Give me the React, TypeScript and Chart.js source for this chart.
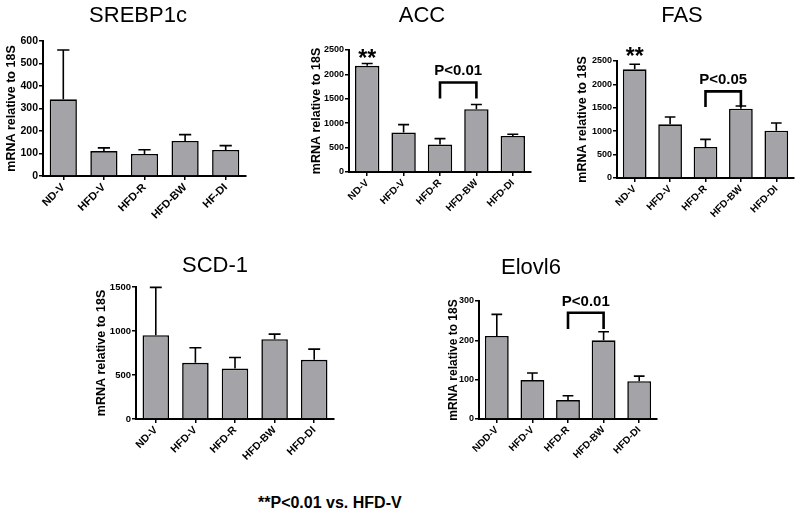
import React, { useEffect, useRef } from "react";
import { Chart, registerables } from "chart.js";

Chart.register(...registerables);

const FONT = "'Liberation Sans', Arial, Helvetica, sans-serif";
const Y_TITLE = "mRNA relative to 18S";

// SREBP1c
const srebpLabels = ["ND-V", "HFD-V", "HFD-R", "HFD-BW", "HF-DI"];
const srebpMeans = [341, 111, 98, 156, 116];
const srebpErr = [219, 14, 19, 28, 19];

// ACC
const accLabels = ["ND-V", "HFD-V", "HFD-R", "HFD-BW", "HFD-DI"];
const accMeans = [2175, 807, 561, 1286, 739];
const accErr = [48, 164, 123, 96, 34];

// FAS
const fasLabels = ["ND-V", "HFD-V", "HFD-R", "HFD-BW", "HFD-DI"];
const fasMeans = [2322, 1147, 662, 1481, 1011];
const fasErr = [107, 156, 164, 57, 164];

// SCD-1
const scdLabels = ["ND-V", "HFD-V", "HFD-R", "HFD-BW", "HFD-DI"];
const scdMeans = [953, 638, 573, 907, 672];
const scdErr = [543, 171, 126, 57, 122];

// Elovl6
const elovlLabels = ["NDD-V", "HFD-V", "HFD-R", "HFD-BW", "HFD-DI"];
const elovlMeans = [211, 99, 48, 200, 96];
const elovlErr = [55, 18, 11, 22, 13];

type Bracket = { from: number; to: number; top: number; leg: number; text: string; textY: number };

type Panel = {
  title: string;
  labels: string[];
  means: number[];
  errs: number[];
  yMax: number;
  yStep: number;
  box: { left: number; top: number; width: number; height: number };
  yW: number;
  xH: number;
  padTop: number;
  padRight: number;
  yTitleX: number;
  yTitleSize: number;
  titleX: number;
  titleY: number;
  tickSize: number;
  xTickSize: number;
  stars?: { index: number; value: number };
  bracket?: Bracket;
};

const panels: Panel[] = [
  {
    title: "SREBP1c", labels: srebpLabels, means: srebpMeans, errs: srebpErr,
    yMax: 600, yStep: 100,
    box: { left: 0, top: 0, width: 260, height: 240 },
    yW: 43, xH: 64, padTop: 41, padRight: 14, yTitleX: 12, yTitleSize: 12.5,
    titleX: 138, titleY: 16, tickSize: 10.5, xTickSize: 11,
  },
  {
    title: "ACC", labels: accLabels, means: accMeans, errs: accErr,
    yMax: 2500, yStep: 500,
    box: { left: 265, top: 0, width: 275, height: 240 },
    yW: 84, xH: 68, padTop: 50, padRight: 9, yTitleX: 317, yTitleSize: 12.5,
    titleX: 422, titleY: 16, tickSize: 9, xTickSize: 10,
    stars: { index: 0, value: 2449 },
    bracket: { from: 2, to: 3, top: 1833, leg: 1505, text: "P<0.01", textY: 2066 },
  },
  {
    title: "FAS", labels: fasLabels, means: fasMeans, errs: fasErr,
    yMax: 2500, yStep: 500,
    box: { left: 545, top: 0, width: 255, height: 240 },
    yW: 72, xH: 62, padTop: 61, padRight: 6, yTitleX: 583, yTitleSize: 12.5,
    titleX: 682, titleY: 16, tickSize: 9, xTickSize: 10,
    stars: { index: 0, value: 2728 },
    bracket: { from: 2, to: 3, top: 1852, leg: 1517, text: "P<0.05", textY: 2101 },
  },
  {
    title: "SCD-1", labels: scdLabels, means: scdMeans, errs: scdErr,
    yMax: 1500, yStep: 500,
    box: { left: 85, top: 245, width: 265, height: 230 },
    yW: 51, xH: 56, padTop: 42, padRight: 16, yTitleX: 102, yTitleSize: 12.5,
    titleX: 215, titleY: 266, tickSize: 9.5, xTickSize: 10.5,
  },
  {
    title: "Elovl6", labels: elovlLabels, means: elovlMeans, errs: elovlErr,
    yMax: 300, yStep: 100,
    box: { left: 435, top: 245, width: 235, height: 230 },
    yW: 44, xH: 56, padTop: 56, padRight: 13, yTitleX: 454, yTitleSize: 12,
    titleX: 531, titleY: 268, tickSize: 9, xTickSize: 10,
    bracket: { from: 2, to: 3, top: 270, leg: 229, text: "P<0.01", textY: 298 },
  },
];

const annotPlugin = {
  id: "annot",
  afterDatasetsDraw(chart: any, _args: any, opts: any) {
    const p: Panel = opts.panel;
    if (!p) return;
    const { ctx } = chart;
    const y = chart.scales.y;
    const meta = chart.getDatasetMeta(0);
    ctx.save();
    ctx.strokeStyle = "#000";
    ctx.lineWidth = 1.6;
    p.errs.forEach((e, i) => {
      const bar = meta.data[i];
      const cx = bar.x;
      const yM = y.getPixelForValue(p.means[i]);
      const yT = y.getPixelForValue(p.means[i] + e);
      const cap = bar.width * 0.45;
      ctx.beginPath();
      ctx.moveTo(cx, yM);
      ctx.lineTo(cx, yT);
      ctx.moveTo(cx - cap / 2, yT);
      ctx.lineTo(cx + cap / 2, yT);
      ctx.stroke();
    });
    if (p.stars) {
      const bar = meta.data[p.stars.index];
      const size = 23;
      ctx.fillStyle = "#000";
      ctx.font = `bold ${size}px ${FONT}`;
      ctx.textAlign = "center";
      ctx.textBaseline = "alphabetic";
      ctx.fillText("**", bar.x, y.getPixelForValue(p.stars.value) + size * 0.58);
    }
    if (p.bracket) {
      const b = p.bracket;
      const x1 = meta.data[b.from].x;
      const x2 = meta.data[b.to].x;
      const yt = y.getPixelForValue(b.top);
      const yl = y.getPixelForValue(b.leg);
      ctx.lineWidth = 2.6;
      ctx.lineJoin = "miter";
      ctx.beginPath();
      ctx.moveTo(x1, yl);
      ctx.lineTo(x1, yt);
      ctx.lineTo(x2, yt);
      ctx.lineTo(x2, yl);
      ctx.stroke();
      ctx.fillStyle = "#000";
      ctx.font = `bold 15px ${FONT}`;
      ctx.textAlign = "center";
      ctx.textBaseline = "middle";
      ctx.fillText(b.text, (x1 + x2) / 2, y.getPixelForValue(b.textY));
    }
    ctx.restore();
  },
  afterDraw(chart: any, _args: any, opts: any) {
    const p: Panel = opts.panel;
    if (!p) return;
    const { ctx } = chart;
    ctx.save();
    ctx.fillStyle = "#000";
    ctx.font = `22px ${FONT}`;
    ctx.textAlign = "center";
    ctx.textBaseline = "middle";
    ctx.fillText(p.title, p.titleX - p.box.left, p.titleY - p.box.top);
    ctx.restore();
  },
};

function BarPanel({ p }: { p: Panel }) {
  const ref = useRef<HTMLCanvasElement | null>(null);
  useEffect(() => {
    if (!ref.current) return;
    const ts = p.yTitleSize;
    const chart = new Chart(ref.current, {
      type: "bar",
      data: {
        labels: p.labels,
        datasets: [
          {
            data: p.means,
            backgroundColor: "#a4a4a8",
            borderColor: "#000",
            borderWidth: 1.6,
            barPercentage: 0.67,
            categoryPercentage: 1,
          },
        ],
      },
      options: {
        responsive: false,
        animation: false,
        devicePixelRatio: 1,
        layout: { padding: { top: p.padTop, right: p.padRight, left: 0, bottom: 0 } },
        plugins: {
          legend: { display: false },
          tooltip: { enabled: false },
          title: { display: false },
          annot: { panel: p },
        } as any,
        scales: {
          x: {
            type: "category",
            offset: true,
            grid: { display: true, drawOnChartArea: false, drawTicks: true, tickLength: 4, offset: false, color: "#000", lineWidth: 1.5 },
            border: { display: true, color: "#000", width: 2 },
            ticks: {
              color: "#000",
              autoSkip: false,
              maxRotation: 45,
              minRotation: 45,
              padding: 1,
              font: { family: FONT, size: p.xTickSize, weight: "bold" },
            },
            afterFit: (s: any) => { s.height = p.xH; },
          },
          y: {
            min: 0,
            max: p.yMax,
            grid: { display: true, drawOnChartArea: false, drawTicks: true, tickLength: 4, color: "#000", lineWidth: 1.5 },
            border: { display: true, color: "#000", width: 2 },
            ticks: {
              stepSize: p.yStep,
              color: "#000",
              padding: 1,
              font: { family: FONT, size: p.tickSize, weight: "bold" },
              callback: (v: any) => String(v),
            },
            title: {
              display: true,
              text: Y_TITLE,
              color: "#000",
              font: { family: FONT, size: ts, weight: "bold" },
              padding: { top: p.yTitleX - p.box.left - (ts * 1.2) / 2, bottom: 0 },
            },
            afterFit: (s: any) => { s.width = p.yW; },
          },
        },
      } as any,
      plugins: [annotPlugin as any],
    });
    return () => chart.destroy();
  }, [p]);
  return (
    <canvas
      ref={ref}
      width={p.box.width}
      height={p.box.height}
      style={{ position: "absolute", left: p.box.left, top: p.box.top, width: p.box.width, height: p.box.height }}
    />
  );
}

export default function App() {
  return (
    <div style={{ position: "fixed", left: 0, top: 0, width: 800, height: 515, background: "#fff", overflow: "hidden" }}>
      {panels.map((p) => (
        <BarPanel key={p.title} p={p} />
      ))}
      <div
        style={{
          position: "absolute",
          left: 258,
          top: 494,
          fontFamily: FONT,
          fontWeight: "bold",
          fontSize: 16,
          lineHeight: "18px",
          color: "#000",
          whiteSpace: "nowrap",
        }}
      >
        **P&lt;0.01 vs. HFD-V
      </div>
    </div>
  );
}
